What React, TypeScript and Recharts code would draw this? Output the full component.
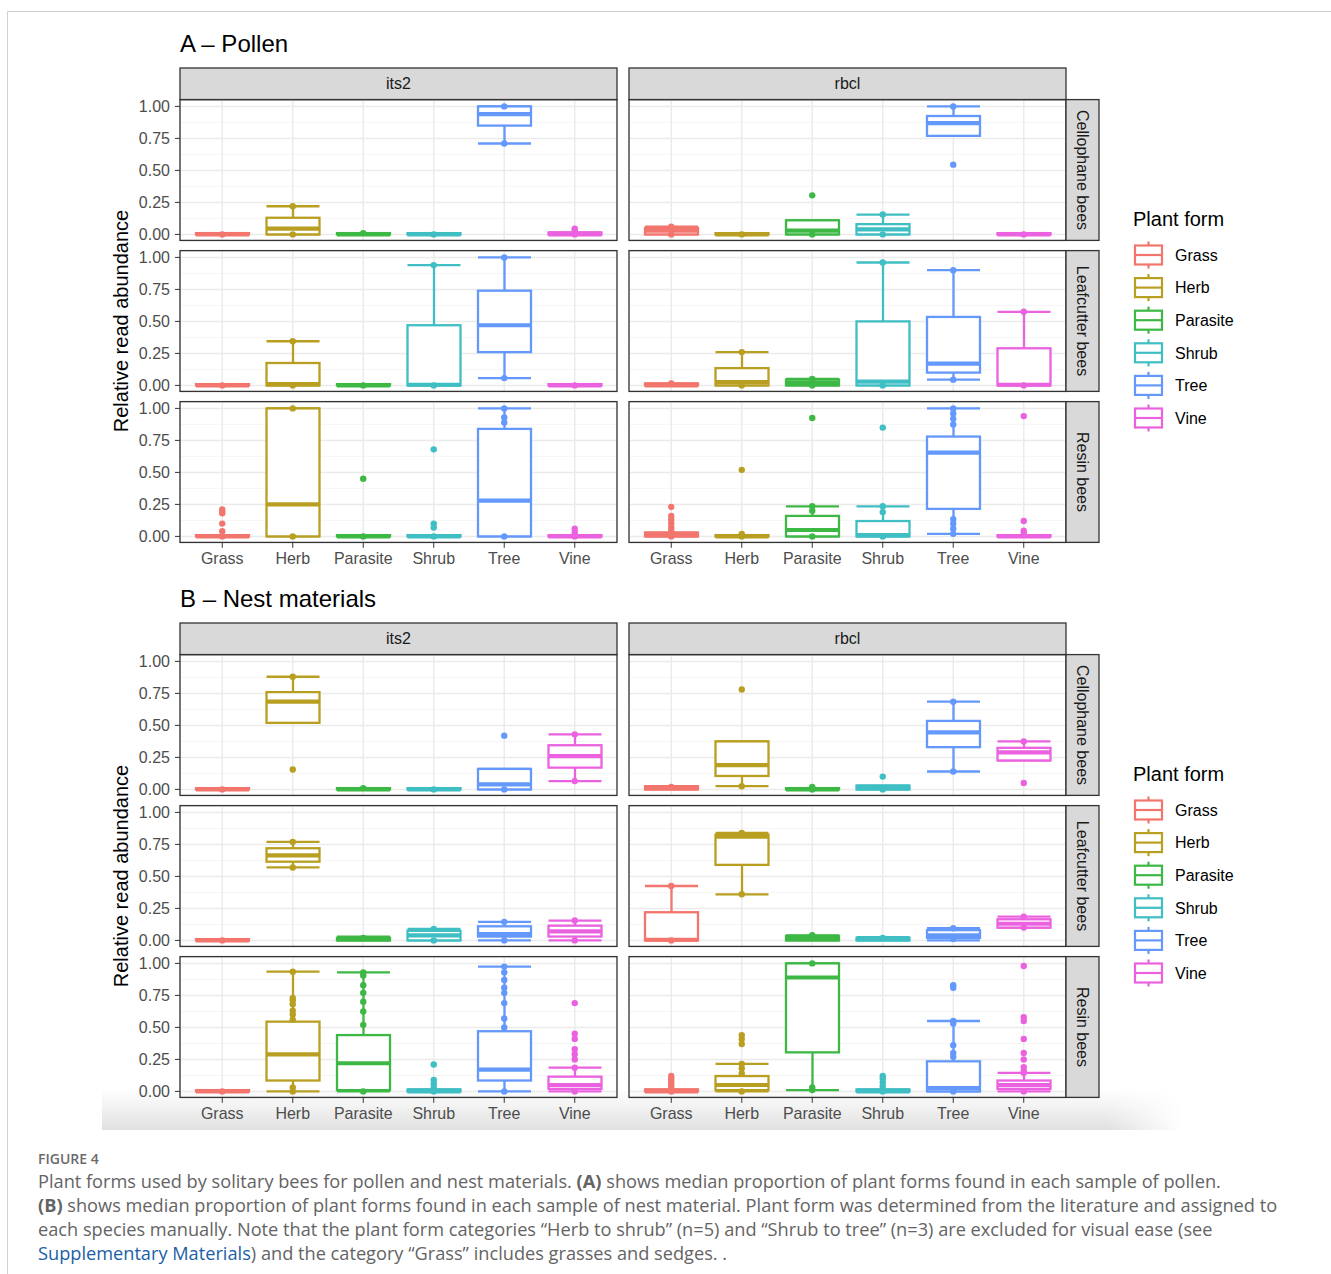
import { ComposedChart, Bar, Scatter, XAxis, YAxis, CartesianGrid } from "recharts";

const plantForms = ["Grass", "Herb", "Parasite", "Shrub", "Tree", "Vine"];
const markers = ["its2", "rbcl"];
const beeGroups = ["Cellophane bees", "Leafcutter bees", "Resin bees"];
const sectionTitles = ["A \u2013 Pollen", "B \u2013 Nest materials"];
const majorTicks = [0, 0.25, 0.5, 0.75, 1];
const minorTicks = [0.125, 0.375, 0.625, 0.875];
const plantColors = ["#F2766D", "#B89F22", "#3DB845", "#3FBEC3", "#6498FB", "#EB62E0"];

// box stats per plant form: [lower whisker, q1, median, q3, upper whisker]
// A - Pollen
const pollenCelloIts2 = [[0, 0, 0, 0.01, 0.01], [0, 0, 0.045, 0.13, 0.22], [0, 0, 0, 0.01, 0.01], [0, 0, 0, 0.01, 0.01], [0.71, 0.85, 0.94, 1, 1], [0, 0, 0, 0.015, 0.015]];
const pollenCelloRbcl = [[0, 0, 0.03, 0.05, 0.06], [0, 0, 0, 0.01, 0.01], [0, 0, 0.03, 0.11, 0.11], [0, 0, 0.04, 0.08, 0.155], [0.77, 0.77, 0.87, 0.925, 1], [0, 0, 0, 0.01, 0.01]];
const pollenLeafIts2 = [[0, 0, 0, 0.01, 0.01], [0, 0, 0.01, 0.175, 0.345], [0, 0, 0, 0.01, 0.01], [0, 0, 0.005, 0.47, 0.94], [0.057, 0.26, 0.47, 0.74, 1], [0, 0, 0, 0.01, 0.01]];
const pollenLeafRbcl = [[0, 0, 0, 0.015, 0.015], [0, 0, 0.025, 0.135, 0.26], [0, 0, 0.02, 0.045, 0.05], [0, 0, 0.03, 0.5, 0.96], [0.045, 0.1, 0.17, 0.535, 0.9], [0, 0, 0.005, 0.29, 0.575]];
const pollenResinIts2 = [[0, 0, 0, 0.01, 0.01], [0, 0, 0.25, 1, 1], [0, 0, 0, 0.01, 0.01], [0, 0, 0, 0.01, 0.01], [0, 0, 0.28, 0.84, 1], [0, 0, 0, 0.01, 0.01]];
const pollenResinRbcl = [[0, 0, 0.01, 0.03, 0.03], [0, 0, 0, 0.01, 0.01], [0, 0, 0.05, 0.16, 0.235], [0, 0, 0.01, 0.12, 0.235], [0.02, 0.215, 0.655, 0.78, 1], [0, 0, 0, 0.01, 0.01]];
// B - Nest materials
const nestCelloIts2 = [[0, 0, 0, 0.01, 0.01], [0.52, 0.52, 0.685, 0.76, 0.88], [0, 0, 0, 0.01, 0.01], [0, 0, 0, 0.01, 0.01], [0, 0, 0.04, 0.16, 0.16], [0.065, 0.17, 0.26, 0.345, 0.43]];
const nestCelloRbcl = [[0, 0, 0.01, 0.025, 0.025], [0.025, 0.105, 0.19, 0.375, 0.375], [0, 0, 0, 0.01, 0.01], [0, 0, 0.01, 0.03, 0.03], [0.14, 0.33, 0.445, 0.535, 0.685], [0.226, 0.226, 0.29, 0.325, 0.375]];
const nestLeafIts2 = [[0, 0, 0, 0.01, 0.01], [0.57, 0.615, 0.665, 0.72, 0.77], [0, 0, 0.01, 0.02, 0.03], [0, 0, 0.04, 0.075, 0.09], [0, 0.03, 0.05, 0.11, 0.145], [0, 0.03, 0.07, 0.115, 0.155]];
const nestLeafRbcl = [[0, 0, 0.005, 0.22, 0.425], [0.36, 0.59, 0.81, 0.825, 0.84], [0, 0, 0.02, 0.035, 0.04], [0, 0, 0.01, 0.02, 0.025], [0, 0.02, 0.04, 0.08, 0.095], [0.1, 0.1, 0.13, 0.165, 0.185]];
const nestResinIts2 = [[0, 0, 0, 0.01, 0.01], [0, 0.085, 0.29, 0.545, 0.935], [0, 0.01, 0.22, 0.44, 0.93], [0, 0, 0, 0.015, 0.015], [0, 0.085, 0.17, 0.47, 0.975], [0, 0.02, 0.05, 0.115, 0.185]];
const nestResinRbcl = [[0, 0, 0, 0.015, 0.015], [0, 0.01, 0.05, 0.12, 0.215], [0.01, 0.305, 0.89, 1, 1], [0, 0, 0, 0.015, 0.015], [0, 0, 0.025, 0.235, 0.55], [0, 0.02, 0.05, 0.085, 0.145]];

// visible sample points per plant form
const pollenCelloIts2Pts = [[0], [0.22, 0], [0.01], [0], [1, 0.71], [0.045, 0.03, 0]];
const pollenCelloRbclPts = [[0.06, 0], [0], [0.305, 0], [0.155, 0], [1, 0.545], [0]];
const pollenLeafIts2Pts = [[0], [0.345, 0], [0], [0.94, 0], [1, 0.057], [0]];
const pollenLeafRbclPts = [[0.015], [0.26, 0], [0.05, 0], [0.96, 0], [0.9, 0.045], [0.575, 0]];
const pollenResinIts2Pts = [[0.21, 0.19, 0.18, 0.1, 0.04, 0], [1, 0], [0.45, 0], [0.68, 0.1, 0.07, 0], [1, 0.93, 0.89, 0], [0.06, 0.03, 0]];
const pollenResinRbclPts = [[0.23, 0.16, 0.13, 0.1, 0.07, 0.045, 0], [0.52, 0.02, 0], [0.925, 0.235, 0.2, 0], [0.85, 0.235, 0.19, 0], [1, 0.96, 0.92, 0.875, 0.135, 0.1, 0.06, 0.02], [0.94, 0.12, 0.045, 0.02]];
const nestCelloIts2Pts = [[0], [0.88, 0.155], [0.01], [0], [0.42, 0], [0.43, 0.065]];
const nestCelloRbclPts = [[0.02], [0.78, 0.025], [0.02, 0], [0.1, 0], [0.685, 0.14], [0.375, 0.05]];
const nestLeafIts2Pts = [[0], [0.77, 0.57], [0.02], [0.09, 0], [0.145, 0], [0.155, 0]];
const nestLeafRbclPts = [[0.425, 0], [0.84, 0.36], [0.04], [0.02], [0.095, 0.01], [0.185, 0.1]];
const nestResinIts2Pts = [[0], [0.935, 0.73, 0.71, 0.68, 0.63, 0.6, 0.56, 0.03, 0], [0.93, 0.905, 0.83, 0.77, 0.7, 0.625, 0.52, 0], [0.21, 0.09, 0.06, 0.03, 0], [0.975, 0.93, 0.87, 0.81, 0.77, 0.69, 0.57, 0.5, 0], [0.69, 0.45, 0.41, 0.33, 0.29, 0.25, 0.185, 0]];
const nestResinRbclPts = [[0.12, 0.1, 0.08, 0.06, 0.04, 0], [0.44, 0.41, 0.37, 0.215, 0.18, 0.14, 0], [1, 0.03, 0.01], [0.12, 0.1, 0.07, 0.04, 0], [0.83, 0.81, 0.55, 0.53, 0.36, 0.3, 0.27, 0], [0.98, 0.58, 0.55, 0.41, 0.3, 0.25, 0.19, 0.16, 0.145, 0]];

const sections = [
  {
    boxes: [[pollenCelloIts2, pollenCelloRbcl], [pollenLeafIts2, pollenLeafRbcl], [pollenResinIts2, pollenResinRbcl]],
    points: [[pollenCelloIts2Pts, pollenCelloRbclPts], [pollenLeafIts2Pts, pollenLeafRbclPts], [pollenResinIts2Pts, pollenResinRbclPts]],
  },
  {
    boxes: [[nestCelloIts2, nestCelloRbcl], [nestLeafIts2, nestLeafRbcl], [nestResinIts2, nestResinRbcl]],
    points: [[nestCelloIts2Pts, nestCelloRbclPts], [nestLeafIts2Pts, nestLeafRbclPts], [nestResinIts2Pts, nestResinRbclPts]],
  },
];

// layout
const SEC_OFF = [0, 555];
const COL_X = [180, 629];
const ROW_Y = [99.6, 250.6, 401.6];
const PLOT_W = 437;
const PLOT_H = 140.8;
const Y_W = 60;
const X_H = 30;
const PAD = 9; // room above/below the plot for the end tick labels
const FONT = "'Liberation Sans', Arial, sans-serif";

const BoxShape = (props: any) => {
  const { x, y, width, height, payload } = props;
  const { lo, q1, med, q3, hi, color } = payload;
  const span = hi - lo;
  const py = (v: number) => (span > 0 ? y + (height * (hi - v)) / span : y);
  const cx = x + width / 2;
  const sw = 2.3;
  return (
    <g>
      <line x1={cx} x2={cx} y1={py(hi)} y2={py(q3)} stroke={color} strokeWidth={sw} />
      <line x1={cx} x2={cx} y1={py(q1)} y2={py(lo)} stroke={color} strokeWidth={sw} />
      <line x1={x} x2={x + width} y1={py(hi)} y2={py(hi)} stroke={color} strokeWidth={sw} />
      <line x1={x} x2={x + width} y1={py(lo)} y2={py(lo)} stroke={color} strokeWidth={sw} />
      <rect x={x} y={py(q3)} width={width} height={Math.max(py(q1) - py(q3), 0)} fill="#fff" stroke={color} strokeWidth={sw} />
      <line x1={x} x2={x + width} y1={py(med)} y2={py(med)} stroke={color} strokeWidth={4.2} />
    </g>
  );
};

function Panel({ boxes, pts, showY, showX }: any) {
  const data = plantForms.map((cat, i) => {
    const [lo, q1, med, q3, hi] = boxes[i];
    return { cat, lo, q1, med, q3, hi, color: plantColors[i] };
  });
  const points = plantForms.flatMap((cat, i) => pts[i].map((v: number) => ({ cat, v, color: plantColors[i] })));
  return (
    <ComposedChart
      width={PLOT_W + (showY ? Y_W : 0)}
      height={PLOT_H + PAD + (showX ? X_H : PAD)}
      data={data}
      margin={{ top: PAD, right: 0, bottom: showX ? 0 : PAD, left: 0 }}
    >
      <CartesianGrid yAxisId="minor" vertical={false} stroke="#F2F2F2" strokeWidth={0.8} />
      <CartesianGrid stroke="#EBEBEB" strokeWidth={1.5} />
      <XAxis
        dataKey="cat"
        hide={!showX}
        allowDuplicatedCategory={false}
        padding={{ left: 7, right: 7 }}
        axisLine={false}
        tickLine={{ stroke: "#333333" }}
        tickSize={5}
        tickMargin={5}
        interval={0}
        height={X_H}
        tick={{ fill: "#4D4D4D", fontSize: 16, fontFamily: FONT }}
      />
      <YAxis
        domain={[-0.05, 1.05]}
        ticks={majorTicks}
        interval={0}
        allowDataOverflow
        hide={!showY}
        width={Y_W}
        axisLine={false}
        tickLine={{ stroke: "#333333" }}
        tickSize={5}
        tickMargin={5}
        tickFormatter={(v: number) => v.toFixed(2)}
        tick={{ fill: "#4D4D4D", fontSize: 16, fontFamily: FONT }}
      />
      <YAxis yAxisId="minor" domain={[-0.05, 1.05]} ticks={minorTicks} interval={0} allowDataOverflow hide />
      <Bar dataKey={(d: any) => [d.lo, d.hi]} barSize={53} isAnimationActive={false} shape={BoxShape} />
      <Scatter
        data={points}
        dataKey="v"
        isAnimationActive={false}
        shape={(p: any) => <circle cx={p.cx} cy={p.cy} r={3.2} fill={p.payload.color} />}
      />
    </ComposedChart>
  );
}

function Legend({ top }: { top: number }) {
  return (
    <g>
      <text x={1133} y={top + 226} fontSize={20} fill="#000">Plant form</text>
      {plantForms.map((name, i) => {
        const cy = top + 255 + i * 32.6;
        const c = plantColors[i];
        return (
          <g key={name}>
            <line x1={1148.5} x2={1148.5} y1={cy - 13.5} y2={cy + 13.5} stroke={c} strokeWidth={2.2} />
            <rect x={1135} y={cy - 9.5} width={27} height={19} fill="#fff" stroke={c} strokeWidth={2.2} />
            <line x1={1135} x2={1162} y1={cy} y2={cy} stroke={c} strokeWidth={2.2} />
            <text x={1175} y={cy + 5.8} fontSize={16} fill="#000">{name}</text>
          </g>
        );
      })}
    </g>
  );
}

export default function App() {
  const capFont = "'Open Sans', Lato, sans-serif";
  return (
    <div style={{ position: "absolute", left: 0, top: 0, width: 1331, height: 1274, background: "#fff", overflow: "hidden", fontFamily: FONT }}>
      <svg width={1331} height={1274} style={{ position: "absolute", left: 0, top: 0 }}>
        <defs>
          <linearGradient id="shadeV" x1="0" y1="0" x2="0" y2="1">
            <stop offset="0" stopColor="#e4e4e4" stopOpacity={0} />
            <stop offset="1" stopColor="#e0e0e0" stopOpacity={1} />
          </linearGradient>
          <linearGradient id="fadeH" x1="0" y1="0" x2="1" y2="0">
            <stop offset="0" stopColor="#fff" />
            <stop offset="0.93" stopColor="#fff" />
            <stop offset="1" stopColor="#000" />
          </linearGradient>
          <mask id="shadeMask">
            <rect x={102} y={1088} width={1080} height={42} fill="url(#fadeH)" />
          </mask>
        </defs>
        <rect x={102} y={1088} width={1080} height={42} fill="url(#shadeV)" mask="url(#shadeMask)" />
        <line x1={7.5} x2={1331} y1={11.5} y2={11.5} stroke="#cfcfcf" strokeWidth={1} />
        <line x1={7.5} x2={7.5} y1={11.5} y2={1274} stroke="#cfcfcf" strokeWidth={1} />
      </svg>

      {sections.map((sec, s) =>
        sec.boxes.map((row, r) =>
          row.map((boxes, c) => (
            <div
              key={`${s}-${r}-${c}`}
              style={{ position: "absolute", left: COL_X[c] - (c === 0 ? Y_W : 0), top: SEC_OFF[s] + ROW_Y[r] - PAD }}
            >
              <Panel boxes={boxes} pts={sec.points[r][c]} showY={c === 0} showX={r === 2} />
            </div>
          ))
        )
      )}

      <svg width={1331} height={1274} style={{ position: "absolute", left: 0, top: 0, pointerEvents: "none" }} fontFamily={FONT}>
        {SEC_OFF.map((off, s) => (
          <g key={s}>
            <text x={180} y={off + 52} fontSize={24} fill="#000">{sectionTitles[s]}</text>
            <text
              x={121}
              y={off + 321}
              fontSize={20}
              fill="#000"
              textAnchor="middle"
              dy="0.35em"
              transform={`rotate(-90 121 ${off + 321})`}
            >
              Relative read abundance
            </text>
            {markers.map((m, c) => (
              <g key={m}>
                <rect x={COL_X[c]} y={off + 68} width={PLOT_W} height={ROW_Y[0] - 68} fill="#D9D9D9" stroke="#333333" strokeWidth={1.3} />
                <text x={COL_X[c] + PLOT_W / 2} y={off + 89} fontSize={16} fill="#1A1A1A" textAnchor="middle">{m}</text>
                {ROW_Y.map((ry, r) => (
                  <rect key={r} x={COL_X[c]} y={off + ry} width={PLOT_W} height={PLOT_H} fill="none" stroke="#333333" strokeWidth={1.3} />
                ))}
              </g>
            ))}
            {beeGroups.map((g, r) => {
              const ry = off + ROW_Y[r];
              const cx = COL_X[1] + PLOT_W + 16.5;
              const cy = ry + PLOT_H / 2;
              return (
                <g key={g}>
                  <rect x={COL_X[1] + PLOT_W} y={ry} width={33} height={PLOT_H} fill="#D9D9D9" stroke="#333333" strokeWidth={1.3} />
                  <text x={cx} y={cy} fontSize={16} fill="#1A1A1A" textAnchor="middle" dy="0.35em" transform={`rotate(90 ${cx} ${cy})`}>
                    {g}
                  </text>
                </g>
              );
            })}
            <Legend top={off} />
          </g>
        ))}

        <g fontFamily={capFont} fill="#646464">
          <text x={38} y={1164} fontSize={14} fontWeight={600} fill="#6a6a6a">FIGURE 4</text>
          <text x={38} y={1188} fontSize={18.2}>
            Plant forms used by solitary bees for pollen and nest materials. <tspan fontWeight={700}>(A)</tspan> shows median proportion of plant forms found in each sample of pollen.
          </text>
          <text x={38} y={1212} fontSize={18.2}>
            <tspan fontWeight={700}>(B)</tspan> shows median proportion of plant forms found in each sample of nest material. Plant form was determined from the literature and assigned to
          </text>
          <text x={38} y={1236} fontSize={18.2}>
            each species manually. Note that the plant form categories “Herb to shrub” (n=5) and “Shrub to tree” (n=3) are excluded for visual ease (see
          </text>
          <text x={38} y={1260} fontSize={18.2}>
            <tspan fill="#1a5ea8">Supplementary Materials</tspan>) and the category “Grass” includes grasses and sedges. .
          </text>
        </g>
      </svg>
    </div>
  );
}
